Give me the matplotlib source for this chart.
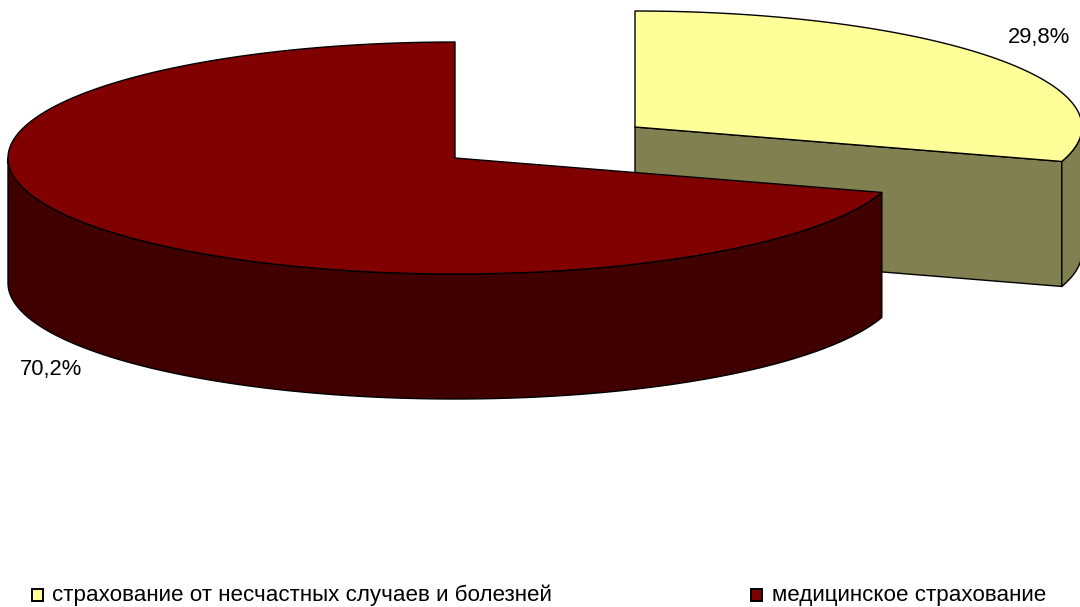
import numpy as np
import matplotlib
matplotlib.use("Agg")
import matplotlib.pyplot as plt
from matplotlib.patches import Polygon, Rectangle

categories = ["страхование от несчастных случаев и болезней", "медицинское страхование"]
shares = [29.8, 70.2]
labels = ["29,8%", "70,2%"]
top_colors = ["#FFFF99", "#800000"]
side_colors = ["#808050", "#400000"]

W, H = 1080, 607
RX, RY, DEPTH = 447, 116, 125
centers = [(635, 127), (455, 158)]

plt.rcParams['font.family'] = ['Liberation Sans', 'DejaVu Sans']
fig = plt.figure(figsize=(W/100, H/100), dpi=100)
ax = fig.add_axes([0, 0, 1, 1])
ax.set_xlim(0, W)
ax.set_ylim(H, 0)
ax.axis("off")

def pt(c, a, dy=0):
    a = np.radians(a)
    return np.column_stack([c[0] + RX*np.cos(a), c[1] - RY*np.sin(a) + dy])

def poly(xy, fc, z):
    ax.add_patch(Polygon(xy, closed=True, facecolor=fc, edgecolor="black", lw=1.0, zorder=z, joinstyle="round"))

a_split = 90 - shares[0] / sum(shares) * 360

c = centers[0]
arc = np.linspace(90, a_split, 120)
end = pt(c, a_split)[0]
poly([c, end, end + [0, DEPTH], (c[0], c[1] + DEPTH)], side_colors[0], 1)
rim = np.linspace(a_split, -1, 30)
poly(np.vstack([pt(c, rim), pt(c, rim[::-1], DEPTH)]), side_colors[0], 1)
poly(np.vstack([[c], pt(c, arc)]), top_colors[0], 2)

c = centers[1]
rim = np.linspace(a_split, -180, 240)
arc = np.linspace(90, a_split + 360, 300)
poly(np.vstack([pt(c, rim), pt(c, rim[::-1], DEPTH)]), side_colors[1], 3)
poly(np.vstack([[c], pt(c, arc)]), top_colors[1], 4)

ax.text(1039, 37, labels[0], ha="center", va="center", fontsize=15.8, color="black", zorder=6)
ax.text(51, 369, labels[1], ha="center", va="center", fontsize=15.8, color="black", zorder=6)

ax.add_patch(Rectangle((32, 589), 11, 12, facecolor=top_colors[0], edgecolor="black", lw=1.4))
ax.add_patch(Rectangle((751, 589), 11, 12, facecolor=top_colors[1], edgecolor="black", lw=1.4))
ax.text(52, 595, categories[0], ha="left", va="center", fontsize=16.1, color="black")
ax.text(772, 595, categories[1], ha="left", va="center", fontsize=16.1, color="black")

fig.savefig("out.png", dpi=100)
